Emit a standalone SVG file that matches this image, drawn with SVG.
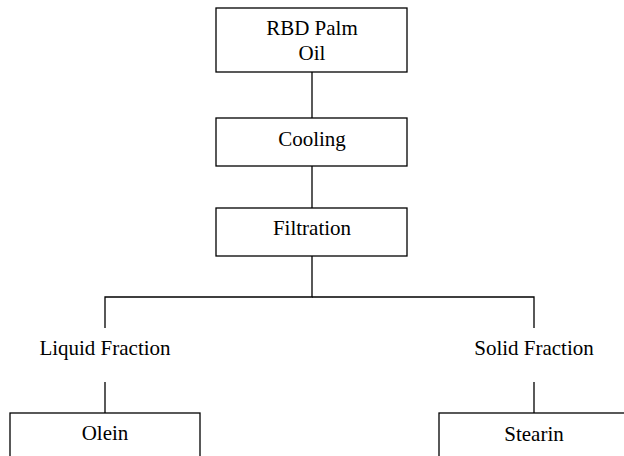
<svg xmlns="http://www.w3.org/2000/svg" width="624" height="456" viewBox="0 0 624 456">
<style>
.box{fill:#fff;stroke:#000;stroke-width:1.3}
.ln{stroke:#000;stroke-width:1.3;fill:none}
text{font-family:"Liberation Serif","Times New Roman",serif;font-size:21px;fill:#000;text-anchor:middle}
</style>
<rect width="624" height="456" fill="#fff"/>
<g id="connectors">
<line class="ln" x1="312" y1="72" x2="312" y2="118"/>
<line class="ln" x1="312" y1="166" x2="312" y2="208"/>
<polyline class="ln" points="312,256 312,297 105,297 105,328"/>
<polyline class="ln" points="312,297 534,297 534,328"/>
<line class="ln" x1="105" y1="382" x2="105" y2="413"/>
<line class="ln" x1="534" y1="382" x2="534" y2="413"/>
</g>
<g id="rbd">
<rect class="box" x="216" y="8" width="191" height="64"/>
<text x="312" y="35">RBD Palm</text>
<text x="312" y="60">Oil</text>
</g>
<g id="cooling">
<rect class="box" x="216" y="118" width="191" height="48"/>
<text x="312" y="146">Cooling</text>
</g>
<g id="filtration">
<rect class="box" x="216" y="208" width="191" height="48"/>
<text x="312" y="235">Filtration</text>
</g>
<g id="liquid">
<text x="105" y="355">Liquid Fraction</text>
</g>
<g id="solid">
<text x="534" y="355">Solid Fraction</text>
</g>
<g id="olein">
<rect class="box" x="10" y="413" width="190" height="60"/>
<text x="105" y="440">Olein</text>
</g>
<g id="stearin">
<rect class="box" x="439" y="413" width="190" height="60"/>
<text x="534" y="441">Stearin</text>
</g>
</svg>
